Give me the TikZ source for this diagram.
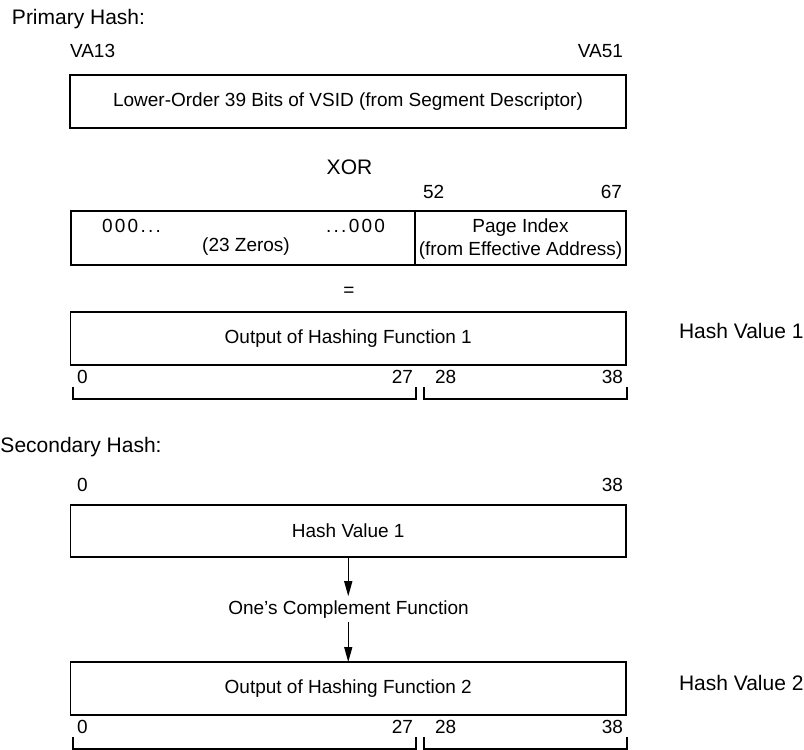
\documentclass[tikz,border=0pt]{standalone}
\usepackage{fontspec}
\setmainfont{Liberation Sans}
\newfontfamily\spacedfont[LetterSpace=12]{Liberation Sans}
\usetikzlibrary{arrows.meta}
\begin{document}
\begin{tikzpicture}[x=1pt,y=-1pt,
  every node/.style={inner sep=0pt, outer sep=0pt},
  body/.style={font=\fontsize{19}{23}\selectfont},
  head/.style={font=\fontsize{21}{25}\selectfont},
  field/.style={draw, line width=1.6pt, body, minimum height=53pt},
  brk/.style={line width=1.6pt},
  flow/.style={line width=1.4pt, -{Triangle[length=15pt,width=8pt]}}
]
\useasboundingbox (0,0) rectangle (804,750);

% Primary hash
\node[head, anchor=base west] (ph) at (12,24) {Primary Hash:};
\node[body, anchor=base west] (va13) at (70,57) {VA13};
\node[body, anchor=base east] (va51) at (623,57) {VA51};
\node[field, minimum width=556pt] (b1) at (348,101.5) {Lower-Order 39 Bits of VSID (from Segment Descriptor)};

\node[head, anchor=base] (xor) at (349.5,174) {XOR};
\node[body, anchor=base west] (n52) at (423,198) {52};
\node[body, anchor=base east] (n67) at (622,198) {67};

\node[field, minimum width=344.5pt, minimum height=54pt] (b2l) at (243.25,238) {};
\node[field, minimum width=211pt, minimum height=54pt] (b2r) at (520.5,238) {};
\node[body, anchor=base west] (z1) at (102,232) {\spacedfont 000...};
\node[body, anchor=base east] (z2) at (385,232) {\spacedfont ...000};
\node[body, anchor=base] (z3) at (246,251) {(23 Zeros)};
\node[body, anchor=base] (pi1) at (520.5,232) {Page Index};
\node[body, anchor=base] (pi2) at (520.5,255) {(from Effective Address)};

\node[body] (eq) at (349,292) {=};

\node[field, minimum width=555.5pt] (b3) at (348.25,338.5) {Output of Hashing Function 1};
\node[head, anchor=base west] (hv1) at (679,338) {Hash Value 1};
\node[body, anchor=base west] (a0) at (77,383) {0};
\node[body, anchor=base east] (a27) at (413,383) {27};
\node[body, anchor=base west] (a28) at (435,383) {28};
\node[body, anchor=base east] (a38) at (623,383) {38};
\draw[brk] (73,387) -- (73,399) -- (416,399) -- (416,387);
\draw[brk] (424,387) -- (424,399) -- (627,399) -- (627,387);

% Secondary hash
\node[head, anchor=base west] (sh) at (0.5,452) {Secondary Hash:};
\node[body, anchor=base west] (c0) at (77,491) {0};
\node[body, anchor=base east] (c38) at (623,491) {38};
\node[field, minimum width=555.5pt, minimum height=52pt] (b4) at (348.25,531) {Hash Value 1};

\node[body, anchor=base, inner sep=4pt] (oc) at (348.5,614) {One’s Complement Function};
\node[field, minimum width=555.5pt] (b5) at (348.25,688.5) {Output of Hashing Function 2};
\draw[flow] (b4.south) -- (b4.south |- oc.north);
\draw[flow] (b4.south |- oc.south) -- (b4.south |- b5.north);

\node[head, anchor=base west] (hv2) at (679,690) {Hash Value 2};
\node[body, anchor=base west] (d0) at (77,733) {0};
\node[body, anchor=base east] (d27) at (413,733) {27};
\node[body, anchor=base west] (d28) at (435,733) {28};
\node[body, anchor=base east] (d38) at (623,733) {38};
\draw[brk] (73,737) -- (73,749) -- (416,749) -- (416,737);
\draw[brk] (424,737) -- (424,749) -- (627,749) -- (627,737);
\end{tikzpicture}
\end{document}
